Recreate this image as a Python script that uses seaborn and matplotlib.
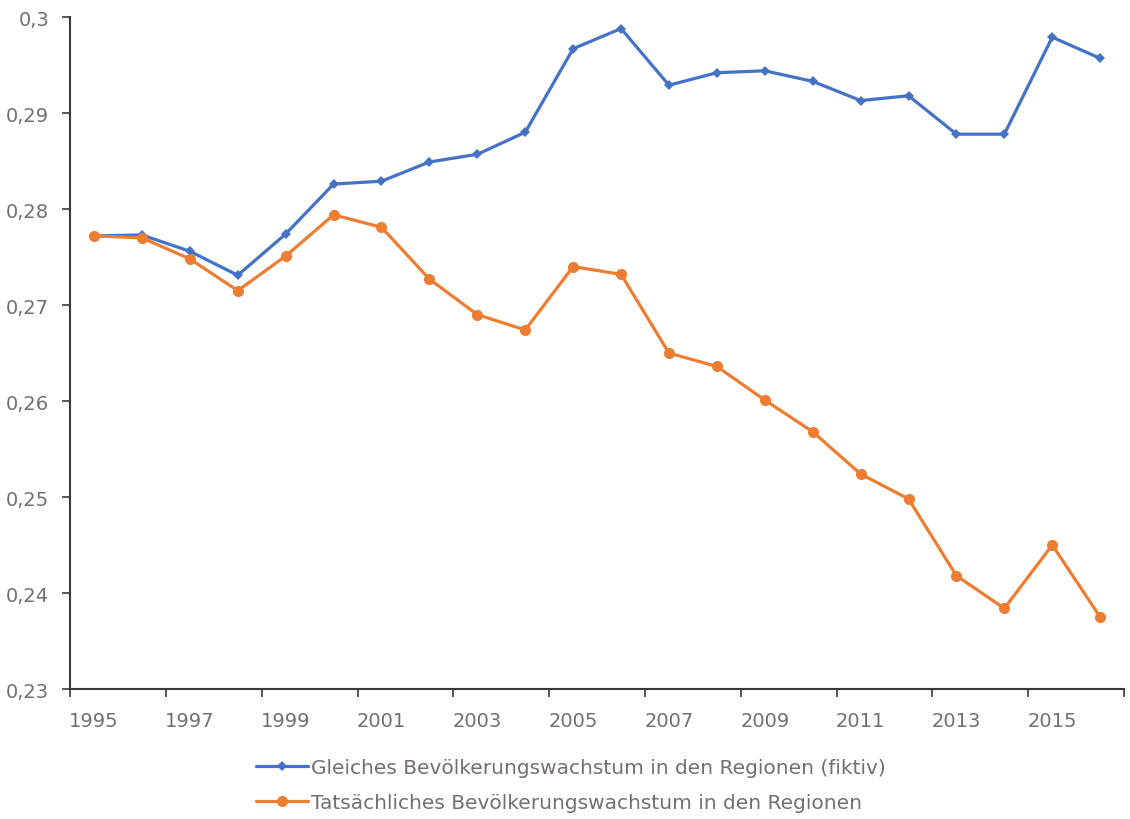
import matplotlib
matplotlib.use("Agg")
import matplotlib.pyplot as plt
from matplotlib.ticker import FixedLocator
from matplotlib.lines import Line2D
import numpy as np
import pandas as pd
import seaborn as sns

years = list(range(1995, 2017))
gleich = [0.2772, 0.2773, 0.2756, 0.2731, 0.2774, 0.2826, 0.2829, 0.2849,
          0.2857, 0.2880, 0.2967, 0.2988, 0.2929, 0.2942, 0.2944, 0.2933,
          0.2913, 0.2918, 0.2878, 0.2878, 0.2979, 0.2957]
tatsaechlich = [0.2772, 0.2770, 0.2748, 0.2715, 0.2751, 0.2794, 0.2781, 0.2727,
                0.2690, 0.2674, 0.2740, 0.2732, 0.2650, 0.2636, 0.2601, 0.2568,
                0.2524, 0.2498, 0.2418, 0.2384, 0.2450, 0.2375]
series_names = ["Gleiches Bevölkerungswachstum in den Regionen (fiktiv)",
                "Tatsächliches Bevölkerungswachstum in den Regionen"]
y_ticks = [0.23, 0.24, 0.25, 0.26, 0.27, 0.28, 0.29, 0.30]
y_tick_labels = ["0,23", "0,24", "0,25", "0,26", "0,27", "0,28", "0,29", "0,3"]
x_tick_years = list(range(1995, 2016, 2))

df = pd.DataFrame({
    "Jahr": years * 2,
    "Wert": gleich + tatsaechlich,
    "Reihe": [series_names[0]] * len(years) + [series_names[1]] * len(years),
})

sns.set_theme(style="white")
plt.rcParams["font.family"] = ["DejaVu Sans"]

text_grey = "#766e6c"
axis_col = "#3a3a3a"
palette = {series_names[0]: "#4472C4", series_names[1]: "#ED7D31"}
markers = {series_names[0]: "D", series_names[1]: "o"}
marker_sizes = {"D": 5, "o": 8}

fig = plt.figure(figsize=(11.3, 8.2), dpi=100)
ax = fig.add_axes([0.062, 0.1585, 0.9328, 0.8195])

sns.lineplot(data=df, x="Jahr", y="Wert", hue="Reihe", style="Reihe",
             palette=palette, markers=markers, dashes=False,
             linewidth=2.3, markeredgewidth=0, ax=ax, legend=False)
for line in ax.lines:
    line.set_markersize(marker_sizes.get(line.get_marker(), 6))

ax.set_xlim(1994.5, 2016.5)
ax.set_ylim(0.23, 0.30)
ax.set_yticks(y_ticks)
ax.set_yticklabels(y_tick_labels)
ax.set_xticks(x_tick_years)
ax.set_xticklabels([str(y) for y in x_tick_years])
ax.xaxis.set_minor_locator(FixedLocator(np.arange(1994.5, 2017, 2)))
ax.tick_params(axis="x", which="major", length=0, pad=16, labelsize=14, labelcolor=text_grey)
ax.tick_params(axis="x", which="minor", length=6, width=1.2, color=axis_col, direction="out", bottom=True)
ax.tick_params(axis="y", which="major", length=6, width=1.2, color=axis_col, direction="out",
               left=True, pad=9, labelsize=14, labelcolor=text_grey)
ax.set_xlabel("")
ax.set_ylabel("")
for side in ["top", "right"]:
    ax.spines[side].set_visible(False)
for side in ["left", "bottom"]:
    ax.spines[side].set_color(axis_col)
    ax.spines[side].set_linewidth(1.5)

handles = [
    Line2D([], [], color=palette[series_names[0]], marker="D", markersize=5,
           markeredgewidth=0, linewidth=2.3),
    Line2D([], [], color=palette[series_names[1]], marker="o", markersize=8,
           markeredgewidth=0, linewidth=2.3),
]
fig.legend(handles, series_names, loc="center", bbox_to_anchor=(0.505, 0.041),
           frameon=False, fontsize=14.5, handlelength=2.6, handletextpad=0.15,
           labelspacing=0.8, labelcolor=text_grey)

fig.savefig("out.png", dpi=100, facecolor="white")
